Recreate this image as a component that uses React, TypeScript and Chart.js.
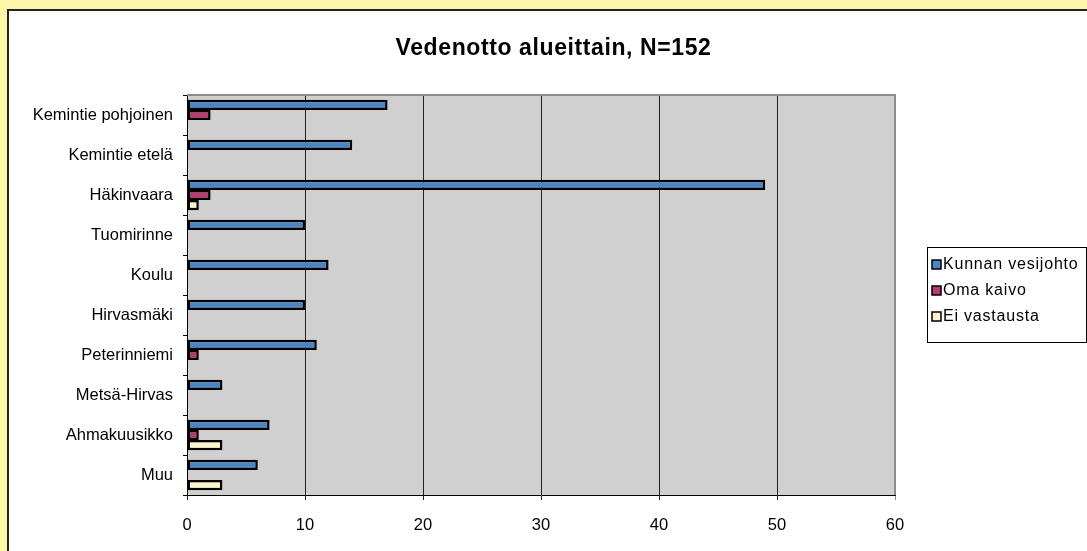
import React, { useEffect, useRef } from "react";
import { Chart, registerables } from "chart.js";

Chart.register(...registerables);

const categories = [
  "Kemintie pohjoinen",
  "Kemintie etelä",
  "Häkinvaara",
  "Tuomirinne",
  "Koulu",
  "Hirvasmäki",
  "Peterinniemi",
  "Metsä-Hirvas",
  "Ahmakuusikko",
  "Muu",
];
const kunnanVesijohto = [17, 14, 49, 10, 12, 10, 11, 3, 7, 6];
const omaKaivo = [2, null, 2, null, null, null, 1, null, 1, null];
const eiVastausta = [null, null, 1, null, null, null, null, null, 3, 3];
const seriesNames = ["Kunnan vesijohto", "Oma kaivo", "Ei vastausta"];
const seriesColors = ["#4A86C6", "#B93A72", "#FBF3CC"];
const titleText = "Vedenotto alueittain, N=152";

const FONT = "'Liberation Sans', Arial, sans-serif";
const CW = 1089;
const CH = 540;

const plotBg = {
  id: "plotBg",
  beforeDraw(chart: any) {
    const { ctx, chartArea: a } = chart;
    ctx.save();
    ctx.fillStyle = "#D0D0D0";
    ctx.fillRect(a.left, a.top, a.right - a.left, a.bottom - a.top);
    ctx.restore();
  },
  afterDatasetsDraw(chart: any) {
    const { ctx, chartArea: a } = chart;
    ctx.save();
    ctx.strokeStyle = "#8C8C8C";
    ctx.lineWidth = 2;
    ctx.beginPath();
    ctx.moveTo(a.left, a.top);
    ctx.lineTo(a.right, a.top);
    ctx.lineTo(a.right, a.bottom);
    ctx.stroke();
    ctx.restore();
  },
};

const titleAndLegend = {
  id: "titleAndLegend",
  afterDraw(chart: any) {
    const ctx = chart.ctx;
    ctx.save();
    // title
    ctx.fillStyle = "#000";
    ctx.font = `bold 23px ${FONT}`;
    (ctx as any).letterSpacing = "0.6px";
    ctx.textAlign = "center";
    ctx.textBaseline = "alphabetic";
    ctx.fillText(titleText, 544.5, 43.5);

    // legend box
    ctx.fillStyle = "#FFFFFF";
    ctx.fillRect(918, 236, 159, 95);
    ctx.strokeStyle = "#000";
    ctx.lineWidth = 1;
    ctx.strokeRect(918.5, 236.5, 159, 95);
    const ys = [253, 279, 305];
    ctx.font = `16px ${FONT}`;
    (ctx as any).letterSpacing = "0.8px";
    ctx.textBaseline = "middle";
    ctx.textAlign = "left";
    seriesNames.forEach((name, i) => {
      const y = ys[i];
      ctx.fillStyle = seriesColors[i];
      ctx.fillRect(923, y - 4, 9, 9);
      ctx.strokeStyle = "#000";
      ctx.lineWidth = 1.5;
      ctx.strokeRect(923, y - 4, 9, 9);
      ctx.fillStyle = "#000";
      ctx.fillText(name, 934, y + 1);
    });
    ctx.restore();
  },
};

export default function App() {
  const ref = useRef<HTMLCanvasElement | null>(null);

  useEffect(() => {
    if (!ref.current) return;
    const mk = (label: string, data: (number | null)[], color: string) => ({
      label,
      data,
      backgroundColor: color,
      borderColor: "#000",
      borderWidth: 2.5,
      borderSkipped: false,
      categoryPercentage: 0.76,
      barPercentage: 1,
    });
    const chart = new Chart(ref.current, {
      type: "bar",
      data: {
        labels: categories,
        datasets: [
          mk(seriesNames[0], kunnanVesijohto, seriesColors[0]),
          mk(seriesNames[1], omaKaivo, seriesColors[1]),
          mk(seriesNames[2], eiVastausta, seriesColors[2]),
        ],
      },
      options: {
        indexAxis: "y",
        animation: false,
        responsive: false,
        devicePixelRatio: 1,
        layout: { padding: { left: 0, top: 84, right: CW - 886, bottom: 0 } },
        plugins: {
          legend: { display: false },
          tooltip: { enabled: false },
          title: { display: false },
        },
        scales: {
          x: {
            min: 0,
            max: 60,
            ticks: {
              stepSize: 10,
              color: "#000",
              font: { family: FONT, size: 16.5 },
              padding: 16,
            },
            grid: {
              color: (c: any) => (c.tick && c.tick.value === 60 ? "#8C8C8C" : "#222"),
              lineWidth: 1,
              tickLength: 5,
              drawTicks: true,
            },
            border: { display: true, color: "#000", width: 1 },
            afterFit: (s: any) => {
              s.height = CH - 484;
            },
          },
          y: {
            ticks: {
              color: "#000",
              font: { family: FONT, size: 16.5 },
              padding: 10,
            },
            grid: {
              drawOnChartArea: false,
              drawTicks: true,
              tickLength: 4,
              color: "#000",
              offset: true,
            },
            border: { display: true, color: "#000", width: 1 },
            afterFit: (s: any) => {
              s.width = 178;
            },
          },
        },
      },
      plugins: [plotBg, titleAndLegend],
    });
    return () => chart.destroy();
  }, []);

  return (
    <div
      style={{
        position: "fixed",
        left: 0,
        top: 0,
        width: 1087,
        height: 551,
        overflow: "hidden",
        background: "#FFF7A8",
      }}
    >
      <div
        style={{
          position: "absolute",
          left: 7,
          top: 9,
          width: 1200,
          height: 600,
          background: "#FFFFFF",
          borderLeft: "2px solid #222",
          borderTop: "2px solid #222",
        }}
      >
        <canvas ref={ref} width={CW} height={CH} style={{ display: "block", width: CW, height: CH }} />
      </div>
    </div>
  );
}
